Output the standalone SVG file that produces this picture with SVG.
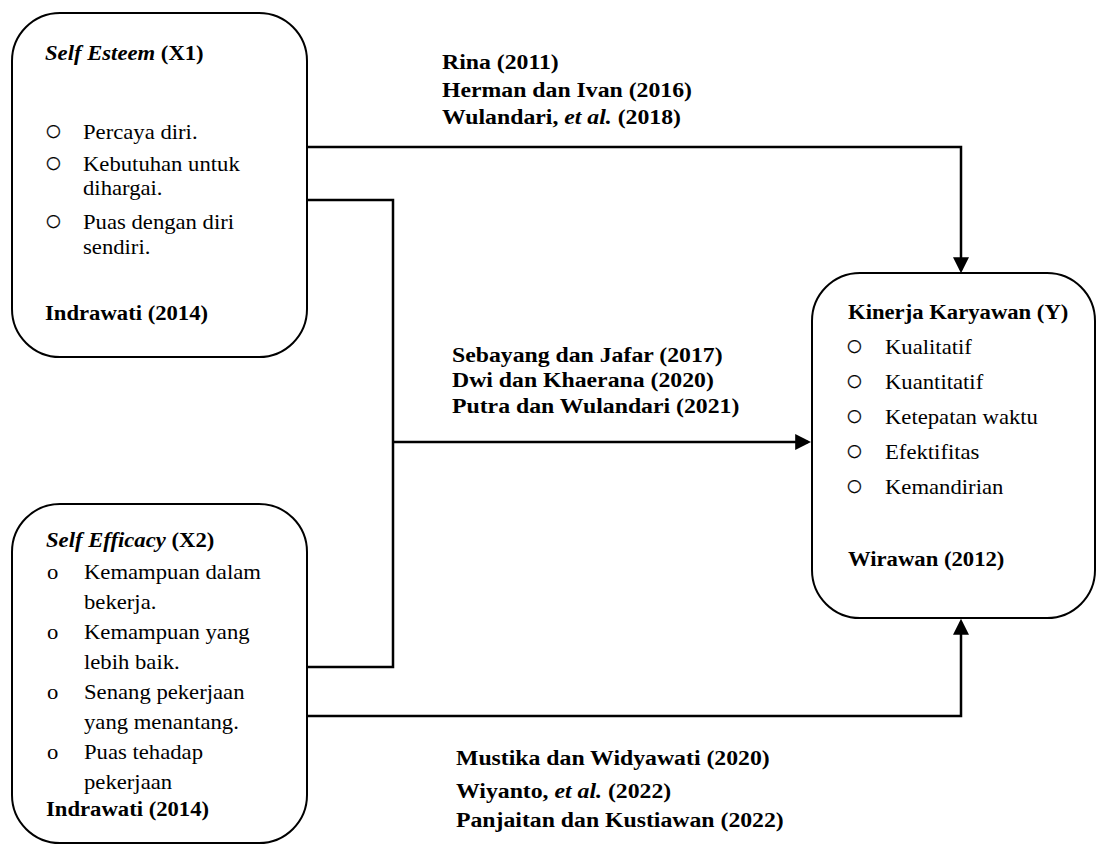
<svg xmlns="http://www.w3.org/2000/svg" width="1097" height="845" viewBox="0 0 1097 845">
<defs>
<marker id="ah" markerUnits="userSpaceOnUse" markerWidth="16" markerHeight="16" refX="12" refY="7.5" orient="auto" viewBox="0 0 15 15"><path d="M0,0 L15,7.5 L0,15 z" fill="#000"/></marker>
</defs>
<style>
.box{fill:#fff;stroke:#000;stroke-width:2}
.t{font-family:"Liberation Serif","Times New Roman",serif;font-size:21px;fill:#000}
.b{font-weight:bold}
.i{font-style:italic}
.lab{font-family:"Liberation Serif","Times New Roman",serif;font-size:22px;font-weight:bold;fill:#000}
.m{font-family:"DejaVu Sans",sans-serif;font-size:17px;fill:#000;stroke:#000;stroke-width:0.3}
.con{fill:none;stroke:#000;stroke-width:2.5}
</style>
<rect width="1097" height="845" fill="#fff"/>

<g id="connectors">
<path class="con" d="M307,147 H961 V270" marker-end="url(#ah)"/>
<path class="con" d="M307,200 H393 V667 H307"/>
<path class="con" d="M393,442 H808" marker-end="url(#ah)"/>
<path class="con" d="M307,716 H961 V622" marker-end="url(#ah)"/>
<g id="label-top">
<text class="lab" transform="translate(442,69) scale(1.08,1)">Rina (2011)</text>
<text class="lab" transform="translate(442,97) scale(1.08,1)">Herman dan Ivan (2016)</text>
<text class="lab" transform="translate(442,124) scale(1.08,1)">Wulandari, <tspan class="i">et al.</tspan> (2018)</text>
</g>
<g id="label-mid">
<text class="lab" transform="translate(452,362) scale(1.08,1)">Sebayang dan Jafar (2017)</text>
<text class="lab" transform="translate(452,387) scale(1.08,1)">Dwi dan Khaerana (2020)</text>
<text class="lab" transform="translate(452,413) scale(1.08,1)">Putra dan Wulandari (2021)</text>
</g>
<g id="label-bottom">
<text class="lab" transform="translate(456,765) scale(1.08,1)">Mustika dan Widyawati (2020)</text>
<text class="lab" transform="translate(456,798) scale(1.08,1)">Wiyanto, <tspan class="i">et al.</tspan> (2022)</text>
<text class="lab" transform="translate(456,827) scale(1.08,1)">Panjaitan dan Kustiawan (2022)</text>
</g>
</g>

<g id="node-x1">
<rect class="box" x="12" y="13" width="295" height="344" rx="48" ry="48"/>
<text class="t b" transform="translate(45,60) scale(1.08,1)"><tspan class="i">Self Esteem</tspan> (X1)</text>
<text class="m" transform="translate(46,136)">○</text>
<text class="t" transform="translate(83,139) scale(1.08,1)">Percaya diri.</text>
<text class="m" transform="translate(46,168)">○</text>
<text class="t" transform="translate(83,171) scale(1.08,1)">Kebutuhan untuk</text>
<text class="t" transform="translate(83,195) scale(1.08,1)">dihargai.</text>
<text class="m" transform="translate(46,226)">○</text>
<text class="t" transform="translate(83,229) scale(1.08,1)">Puas dengan diri</text>
<text class="t" transform="translate(83,254) scale(1.08,1)">sendiri.</text>
<text class="t b" transform="translate(45,320) scale(1.08,1)">Indrawati (2014)</text>
</g>

<g id="node-x2">
<rect class="box" x="12" y="504" width="295" height="339" rx="48" ry="48"/>
<text class="t b" transform="translate(46,547) scale(1.08,1)"><tspan class="i">Self Efficacy</tspan> (X2)</text>
<text class="t" transform="translate(47,579) scale(1.08,1)">o</text>
<text class="t" transform="translate(84,579) scale(1.08,1)">Kemampuan dalam</text>
<text class="t" transform="translate(84,609) scale(1.08,1)">bekerja.</text>
<text class="t" transform="translate(47,639) scale(1.08,1)">o</text>
<text class="t" transform="translate(84,639) scale(1.08,1)">Kemampuan yang</text>
<text class="t" transform="translate(84,669) scale(1.08,1)">lebih baik.</text>
<text class="t" transform="translate(47,699) scale(1.08,1)">o</text>
<text class="t" transform="translate(84,699) scale(1.08,1)">Senang pekerjaan</text>
<text class="t" transform="translate(84,729) scale(1.08,1)">yang menantang.</text>
<text class="t" transform="translate(47,759) scale(1.08,1)">o</text>
<text class="t" transform="translate(84,759) scale(1.08,1)">Puas tehadap</text>
<text class="t" transform="translate(84,789) scale(1.08,1)">pekerjaan</text>
<text class="t b" transform="translate(46,816) scale(1.08,1)">Indrawati (2014)</text>
</g>

<g id="node-y">
<rect class="box" x="812" y="273" width="283" height="345" rx="48" ry="48"/>
<text class="t b" transform="translate(848,319) scale(1.08,1)">Kinerja Karyawan (Y)</text>
<text class="m" transform="translate(847,351)">○</text>
<text class="t" transform="translate(885,354) scale(1.08,1)">Kualitatif</text>
<text class="m" transform="translate(847,386)">○</text>
<text class="t" transform="translate(885,389) scale(1.08,1)">Kuantitatif</text>
<text class="m" transform="translate(847,421)">○</text>
<text class="t" transform="translate(885,424) scale(1.08,1)">Ketepatan waktu</text>
<text class="m" transform="translate(847,456)">○</text>
<text class="t" transform="translate(885,459) scale(1.08,1)">Efektifitas</text>
<text class="m" transform="translate(847,491)">○</text>
<text class="t" transform="translate(885,494) scale(1.08,1)">Kemandirian</text>
<text class="t b" transform="translate(848,566) scale(1.08,1)">Wirawan (2012)</text>
</g>
</svg>
